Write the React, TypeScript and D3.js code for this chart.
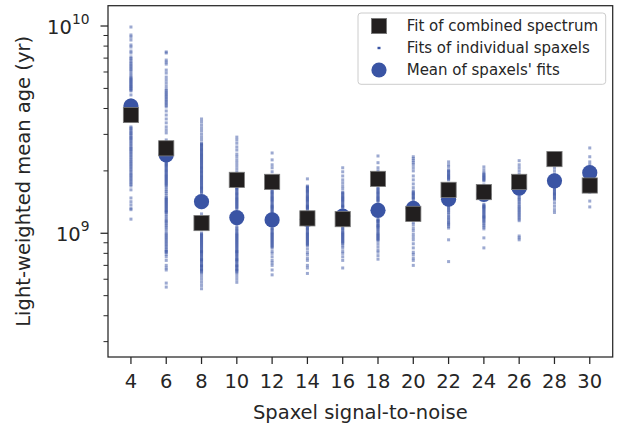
import React from "react";
import * as d3 from "d3";

// Spaxel signal-to-noise bins
const snrBins = [4, 6, 8, 10, 12, 14, 16, 18, 20, 22, 24, 26, 28, 30];
// Light-weighted mean age, in units of 1e9 yr
const combinedFit = [3.72, 2.57, 1.12, 1.81, 1.77, 1.18, 1.17, 1.83, 1.24, 1.62, 1.58, 1.77, 2.28, 1.70];
const meanOfSpaxels = [4.11, 2.39, 1.42, 1.19, 1.16, 1.17, 1.21, 1.29, 1.32, 1.46, 1.54, 1.65, 1.79, 1.96];

// Individual spaxel fits per bin (1e9 yr)
const spaxels4 = [9.89, 9.05, 8.85, 8.56, 8.10, 7.92, 7.57, 7.41, 7.09, 6.85, 6.71, 6.48, 6.27, 6.07, 5.93, 5.68, 5.55, 5.43, 5.31, 5.19, 5.08, 4.97, 4.86, 4.65, 4.40, 4.20, 4.02, 3.85, 3.26, 3.18, 3.08, 3.01, 2.91, 2.85, 2.76, 2.67, 2.58, 2.52, 2.44, 2.36, 2.28, 2.21, 2.14, 2.07, 2.00, 1.93, 1.87, 1.81, 1.75, 1.69, 1.62, 1.48, 1.42, 1.37, 1.32, 1.30, 1.17,
  3.22, 3.13, 3.04, 2.96, 2.88, 2.80, 2.71, 2.62, 2.55, 2.48, 2.40, 2.32, 2.24, 2.17, 2.10, 2.03, 1.96, 1.90, 1.84, 1.78, 1.72,
  6.97, 6.60, 6.38, 6.17, 5.80, 5.61, 5.49, 5.37, 5.25, 5.13, 5.02, 4.91];
const spaxels6 = [7.50, 7.41, 6.85, 6.70, 6.55, 6.13, 5.93, 5.67, 5.49, 5.31, 5.13, 4.97, 4.80, 4.65, 4.50, 4.35, 4.21, 4.07, 3.89, 3.72, 3.56, 3.41, 3.26, 3.15, 3.05, 2.82, 2.67, 2.52, 2.39, 2.26, 2.21, 2.16, 2.12, 2.07, 2.02, 1.98, 1.93, 1.89, 1.85, 1.81, 1.77, 1.73, 1.69, 1.62, 1.56, 1.49, 1.46, 1.43, 1.40, 1.37, 1.34, 1.31, 1.28, 1.26, 1.21, 1.16, 1.13, 1.09, 1.05, 1.00, 0.97, 0.94, 0.91, 0.88, 0.85, 0.82, 0.81, 0.77, 0.74, 0.70, 0.68, 0.665, 0.575, 0.55,
  2.235, 2.185, 2.14, 2.095, 2.045, 2.00, 1.955, 1.91, 1.87, 1.83, 1.79, 1.75, 1.71, 1.655, 1.59, 1.525, 1.475, 1.445, 1.415, 1.385, 1.355, 1.325, 1.295, 1.27, 1.235, 1.185, 1.145, 1.11, 1.07, 1.025, 0.985, 0.955, 0.925, 0.895, 0.865, 0.835, 0.815, 0.79,
  4.88, 4.72, 4.57, 4.42, 4.28, 4.14];
const spaxels8 = [3.56, 3.45, 3.33, 3.22, 3.12, 3.01, 2.91, 2.82, 2.72, 2.67, 2.61, 2.55, 2.50, 2.44, 2.39, 2.34, 2.29, 2.24, 2.19, 2.14, 2.09, 2.05, 2.00, 1.96, 1.91, 1.87, 1.83, 1.79, 1.75, 1.71, 1.67, 1.64, 1.60, 1.56, 1.48, 1.40, 1.33, 1.24, 1.19, 1.14, 1.09, 1.04, 1.00, 0.98, 0.96, 0.94, 0.92, 0.90, 0.88, 0.86, 0.84, 0.82, 0.81, 0.79, 0.77, 0.75, 0.74, 0.72, 0.70, 0.69, 0.67, 0.66, 0.64, 0.62, 0.60, 0.58, 0.56, 0.54,
  2.695, 2.64, 2.58, 2.525, 2.47, 2.415, 2.365, 2.315, 2.265, 2.215, 2.165, 2.115, 2.07, 2.025, 1.98, 1.935, 1.89, 1.85, 1.81, 1.77, 1.73, 1.69, 1.655, 1.62, 1.58,
  0.99, 0.97, 0.95, 0.93, 0.91, 0.89, 0.87, 0.85, 0.83, 0.815, 0.80, 0.78, 0.76, 0.745, 0.73, 0.71, 0.695, 0.68, 0.665, 0.65];
const spaxels10 = [2.91, 2.82, 2.72, 2.61, 2.52, 2.41, 2.34, 2.26, 2.19, 2.12, 2.05, 1.98, 1.89, 1.81, 1.73, 1.67, 1.64, 1.60, 1.56, 1.53, 1.49, 1.46, 1.43, 1.40, 1.37, 1.34, 1.31, 1.25, 1.19, 1.12, 1.08, 1.06, 1.03, 1.00, 0.98, 0.96, 0.94, 0.92, 0.90, 0.88, 0.86, 0.84, 0.82, 0.81, 0.79, 0.77, 0.75, 0.74, 0.72, 0.70, 0.69, 0.67, 0.66, 0.64, 0.62, 0.60, 0.58,
  1.655, 1.62, 1.58, 1.545, 1.51, 1.475, 1.445, 1.415, 1.385, 1.355, 1.325,
  1.045, 1.015, 0.99, 0.97, 0.95, 0.93, 0.91, 0.89, 0.87, 0.85, 0.83, 0.815, 0.80, 0.78, 0.76, 0.745, 0.73, 0.71, 0.695, 0.68, 0.665, 0.65];
const spaxels12 = [2.44, 2.26, 2.14, 2.07, 1.98, 1.85, 1.73, 1.62, 1.58, 1.55, 1.51, 1.48, 1.45, 1.42, 1.38, 1.35, 1.33, 1.30, 1.27, 1.24, 1.21, 1.16, 1.11, 1.06, 1.04, 1.01, 0.99, 0.97, 0.95, 0.93, 0.91, 0.89, 0.87, 0.85, 0.82, 0.80, 0.77, 0.74, 0.72, 0.70, 0.665, 0.63,
  1.60, 1.565, 1.53, 1.495, 1.465, 1.435, 1.40, 1.365, 1.34, 1.315, 1.285, 1.255, 1.05, 1.025, 1.00, 0.98, 0.96, 0.94, 0.92, 0.90, 0.88, 0.86];
const spaxels14 = [1.83, 1.69, 1.66, 1.62, 1.59, 1.55, 1.51, 1.48, 1.45, 1.42, 1.38, 1.35, 1.33, 1.30, 1.24, 1.19, 1.13, 1.09, 1.06, 1.04, 1.01, 0.99, 0.97, 0.95, 0.93, 0.91, 0.89, 0.87, 0.84, 0.81, 0.79, 0.76, 0.74, 0.70, 0.68, 0.64,
  1.675, 1.64, 1.605, 1.57, 1.53, 1.495, 1.465, 1.435, 1.40, 1.365, 1.34, 1.315, 1.075, 1.05, 1.025, 1.00, 0.98, 0.96, 0.94, 0.92, 0.90, 0.88];
const spaxels16 = [2.07, 1.98, 1.89, 1.81, 1.75, 1.69, 1.64, 1.58, 1.55, 1.51, 1.48, 1.45, 1.42, 1.38, 1.35, 1.33, 1.27, 1.21, 1.16, 1.11, 1.07, 1.04, 1.01, 0.99, 0.97, 0.95, 0.93, 0.91, 0.89, 0.87, 0.85, 0.82, 0.80, 0.77, 0.74, 0.68,
  1.565, 1.53, 1.495, 1.465, 1.435, 1.40, 1.365, 1.34, 1.055, 1.025, 1.00, 0.98, 0.96, 0.94, 0.92, 0.90];
const spaxels18 = [2.36, 2.19, 2.07, 2.00, 1.91, 1.81, 1.71, 1.66, 1.62, 1.58, 1.55, 1.51, 1.48, 1.45, 1.42, 1.37, 1.30, 1.23, 1.17, 1.15, 1.13, 1.10, 1.08, 1.06, 1.03, 1.00, 0.98, 0.96, 0.94, 0.92, 0.89, 0.86, 0.83, 0.81, 0.78, 0.75,
  1.64, 1.60, 1.565, 1.53, 1.495, 1.465, 1.435, 1.16, 1.14, 1.115, 1.09, 1.07, 1.045, 1.015, 0.99, 0.97, 0.95, 0.93];
const spaxels20 = [2.34, 2.29, 2.24, 2.19, 2.14, 2.07, 2.00, 1.89, 1.81, 1.73, 1.66, 1.60, 1.56, 1.53, 1.49, 1.46, 1.42, 1.35, 1.30, 1.24, 1.19, 1.13, 1.10, 1.06, 1.03, 0.99, 0.96, 0.93, 0.89, 0.85, 0.81, 0.79, 0.76, 0.74, 0.70,
  1.58, 1.545, 1.51, 1.475];
const spaxels22 = [2.21, 2.14, 2.09, 2.02, 1.98, 1.93, 1.89, 1.85, 1.81, 1.73, 1.66, 1.58, 1.51, 1.45, 1.38, 1.34, 1.30, 1.26, 1.21, 1.17, 1.13, 1.10, 1.06, 0.93, 0.73,
  2.00, 1.955, 1.91, 1.87, 1.83, 1.36, 1.32, 1.28, 1.235, 1.19, 1.15, 1.115, 1.08];
const spaxels24 = [2.09, 2.02, 1.96, 1.91, 1.87, 1.83, 1.79, 1.71, 1.62, 1.53, 1.45, 1.38, 1.35, 1.33, 1.30, 1.27, 1.24, 1.21, 1.19, 1.16, 1.13, 1.09, 1.05, 0.95, 0.85,
  1.935, 1.89, 1.85, 1.81, 1.365, 1.34, 1.315, 1.285, 1.255, 1.225, 1.20, 1.175, 1.145, 1.11, 1.07];
const spaxels26 = [2.24, 2.14, 2.07, 2.00, 1.93, 1.85, 1.77, 1.69, 1.62, 1.55, 1.49, 1.45, 1.40, 1.35, 1.31, 1.27, 1.23, 1.19, 1.15, 0.97, 0.95, 0.93,
  1.52, 1.47, 1.425, 1.375, 1.33, 1.29, 1.25, 1.21, 1.17];
const spaxels28 = [2.26, 2.14, 2.07, 2.00, 1.93, 1.85, 1.77, 1.69, 1.64, 1.60, 1.56, 1.53, 1.49, 1.45, 1.40, 1.35, 1.30, 1.26,
  1.665, 1.62, 1.58, 1.545, 1.51, 1.47];
const spaxels30 = [2.58, 2.34, 2.21, 2.14, 2.07, 1.98, 1.89, 1.81, 1.73, 1.66, 1.58, 1.43, 1.34];

const spaxelsByBin = [spaxels4, spaxels6, spaxels8, spaxels10, spaxels12, spaxels14, spaxels16, spaxels18, spaxels20, spaxels22, spaxels24, spaxels26, spaxels28, spaxels30];

const xTickLabels = ["4", "6", "8", "10", "12", "14", "16", "18", "20", "22", "24", "26", "28", "30"];
const yMajorTicks = [1e9, 1e10];
const yMajorExp = ["9", "10"];
const yMinorTicks = [3e8, 4e8, 5e8, 6e8, 7e8, 8e8, 9e8, 2e9, 3e9, 4e9, 5e9, 6e9, 7e9, 8e9, 9e9];

const legendLabels = ["Fit of combined spectrum", "Fits of individual spaxels", "Mean of spaxels' fits"];

const W = 617;
const H = 424;
const L = 108, R = 612.7, T = 5.7, B = 357;
const BLUE = "#3a54a4";
const INK = "#262626";
const FONT = "DejaVu Sans";

export default function App() {
  const x = d3.scaleLinear().domain([2.7, 31.3]).range([L, R]);
  const y = d3.scaleLog().domain([Math.pow(10, 8.403), Math.pow(10, 10.098)]).range([B, T]);
  const G = 1e9;

  return (
    <svg width={W} height={H} style={{ position: "absolute", left: 0, top: 0 }} fontFamily={FONT}>
      <rect x={0} y={0} width={W} height={H} fill="#fff" />
      <defs>
        <clipPath id="plot">
          <rect x={L} y={T} width={R - L} height={B - T} />
        </clipPath>
      </defs>
      <g clipPath="url(#plot)">
        {spaxelsByBin.map((vals, i) =>
          vals.map((v, j) => (
            <rect key={`p${i}-${j}`} x={x(snrBins[i]) - 1.5} y={y(v * G) - 1.5} width={3} height={3} fill={BLUE} fillOpacity={0.5} />
          ))
        )}
        {meanOfSpaxels.map((v, i) => (
          <circle key={`c${i}`} cx={x(snrBins[i])} cy={y(v * G)} r={7.6} fill={BLUE} />
        ))}
        {combinedFit.map((v, i) => (
          <rect key={`s${i}`} x={x(snrBins[i]) - 7.6} y={y(v * G) - 7.6} width={15.2} height={15.2} fill="#221f1f" stroke="#7a7a7a" strokeWidth={0.8} />
        ))}
      </g>
      <rect x={L} y={T} width={R - L} height={B - T} fill="none" stroke={INK} strokeWidth={1.25} />
      {snrBins.map((s, i) => (
        <g key={`xt${i}`}>
          <line x1={x(s)} x2={x(s)} y1={B} y2={B + 7} stroke={INK} strokeWidth={1.25} />
          <text x={x(s)} y={388.3} textAnchor="middle" fontSize={19.5} fill={INK}>{xTickLabels[i]}</text>
        </g>
      ))}
      {yMinorTicks.map((t, i) => (
        <line key={`ym${i}`} x1={L - 4.5} x2={L} y1={y(t)} y2={y(t)} stroke={INK} strokeWidth={1} />
      ))}
      {yMajorTicks.map((t, i) => (
        <g key={`yt${i}`}>
          <line x1={L - 7.5} x2={L} y1={y(t)} y2={y(t)} stroke={INK} strokeWidth={1.25} />
          <text x={89.5} y={y(t) + 7.5} textAnchor="end" fontSize={19.5} fill={INK}>
            <tspan>10</tspan>
            <tspan dy={-10} fontSize={13.8}>{yMajorExp[i]}</tspan>
          </text>
        </g>
      ))}
      <text x={(L + R) / 2} y={419.3} textAnchor="middle" fontSize={19.5} fill={INK}>Spaxel signal-to-noise</text>
      <text transform={`translate(29.7, ${(T + B) / 2}) rotate(-90)`} textAnchor="middle" fontSize={19.5} fill={INK}>Light-weighted mean age (yr)</text>
      <g>
        <rect x={358} y={13} width={247.7} height={71.3} rx={3} fill="#fff" fillOpacity={0.8} stroke="#cccccc" strokeWidth={1} />
        <rect x={379 - 7.6} y={26 - 7.6} width={15.2} height={15.2} fill="#221f1f" stroke="#7a7a7a" strokeWidth={0.8} />
        <rect x={379 - 1.5} y={48 - 1.2} width={3} height={2.4} fill={BLUE} />
        <circle cx={379} cy={70} r={7.6} fill={BLUE} />
        {legendLabels.map((lab, i) => (
          <text key={`lg${i}`} x={406.7} y={31.3 + i * 22} fontSize={15} fill={INK}>{lab}</text>
        ))}
      </g>
    </svg>
  );
}
